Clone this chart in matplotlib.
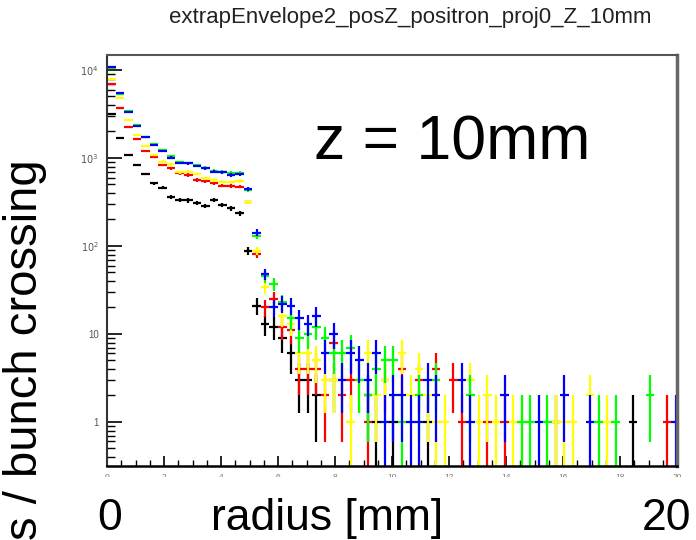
import numpy as np
import matplotlib
matplotlib.use("Agg")
import matplotlib.pyplot as plt
from matplotlib.ticker import FixedLocator, FixedFormatter, LogLocator, MultipleLocator, NullFormatter
from matplotlib.patches import Rectangle

plt.rcParams['font.family'] = ['Liberation Sans', 'DejaVu Sans']

# histogram binning (radius in mm)
bin_width = 0.3
n_bins = 67

# counts per bin, one list per histogram
counts_blue = [10900, 5430, 3360, 2310, 1720, 1405, 1200, 1010, 877, 870,
               811, 763, 699, 690, 641, 650, 441, 142, 48, 20,
               22, 21, 15, 13, 16, 6, 10, 3, 6, 5,
               3, 6, 1, 2, 2, 1, 1, 3, 2, 0,
               0, 3, 1, 0, 0, 0, 2, 0, 0, 0,
               1, 0, 0, 2, 0, 0, 1, 0, 0, 0,
               0, 0, 0, 0, 0, 0, 1]
counts_green = [10500, 5300, 3450, 2400, 1750, 1450, 1220, 1050, 890, 880,
                830, 775, 720, 700, 680, 680, 430, 130, 45, 37,
                23, 15, 9, 10, 12, 9, 6, 6, 7, 3,
                2, 4, 5, 5, 1, 0, 2, 0, 3, 0,
                0, 0, 2, 0, 0, 0, 0, 0, 1, 1,
                0, 1, 0, 0, 0, 0, 0, 1, 0, 1,
                0, 0, 0, 2, 0, 0, 0]
counts_yellow = [8000, 4770, 2700, 1825, 1380, 1082, 908, 848, 690, 699,
                 658, 588, 562, 538, 531, 548, 315, 88, 34, 20,
                 16, 13, 6, 6, 5, 3, 3, 3, 1, 3,
                 6, 2, 3, 2, 6, 2, 4, 2, 1, 1,
                 0, 0, 3, 1, 2, 1, 0, 1, 1, 0,
                 0, 0, 1, 1, 1, 0, 2, 0, 1, 0,
                 0, 0, 0, 0, 0, 0, 0]
counts_red = [6930, 3670, 2270, 1630, 1200, 1035, 832, 763, 670, 641,
              562, 548, 515, 485, 480, 472, 319, 82, 20, 25,
              12, 11, 4, 4, 4, 2, 8, 2, 3, 0,
              1, 0, 3, 0, 4, 0, 3, 0, 4, 0,
              3, 1, 0, 0, 1, 0, 1, 0, 0, 0,
              0, 0, 0, 0, 0, 0, 0, 0, 0, 0,
              0, 0, 0, 0, 0, 1, 0]
counts_black = [3200, 1700, 1082, 832, 658, 515, 460, 357, 333, 330,
                311, 285, 333, 292, 268, 235, 88, 21, 13, 12,
                9, 6, 3, 3, 2, 0, 3, 0, 0, 0,
                2, 1, 0, 1, 0, 0, 0, 1, 0, 0,
                0, 0, 0, 0, 0, 0, 0, 0, 0, 0,
                0, 0, 1, 0, 0, 0, 0, 0, 0, 0,
                0, 1, 0, 0, 0, 0, 0]

series = [(counts_black, 'black'), (counts_red, '#ff0000'), (counts_yellow, '#ffff00'),
          (counts_green, '#00ff00'), (counts_blue, '#0000ff')]

y_ticks = [1, 10, 100, 1000, 10000]
y_tick_labels = ['1', '10', '$10^2$', '$10^3$', '$10^4$']
x_ticks = [0, 2, 4, 6, 8, 10, 12, 14, 16, 18, 20]

fig = plt.figure(figsize=(6.96, 5.4), dpi=100)
ax = fig.add_axes([107 / 696, 1 - 466 / 540, 570 / 696, 411 / 540])

centers = (np.arange(n_bins) + 0.5) * bin_width
for counts, col in series:
    n = np.array(counts, dtype=float)
    keep = n > 0
    err = np.sqrt(n[keep])
    low = n[keep] - np.maximum(n[keep] - err, 1e-3)
    ax.errorbar(centers[keep], n[keep], xerr=bin_width / 2, yerr=[low, err],
                fmt='none', ecolor=col, elinewidth=1.6, capsize=0)

ax.set_yscale('log')
ax.set_xlim(0, 20)
ax.set_ylim(0.316, 14800)

ax.yaxis.set_major_locator(FixedLocator(y_ticks))
ax.yaxis.set_major_formatter(FixedFormatter(y_tick_labels))
ax.yaxis.set_minor_locator(LogLocator(base=10, subs=np.arange(2, 10)))
ax.yaxis.set_minor_formatter(NullFormatter())
ax.xaxis.set_major_locator(FixedLocator(x_ticks))
ax.xaxis.set_minor_locator(MultipleLocator(0.5))

ax.tick_params(axis='y', which='major', direction='in', length=11, width=1.2,
               labelsize=7, labelcolor='#555555', pad=6, right=False)
ax.tick_params(axis='y', which='minor', direction='in', length=6, width=1.0, right=False)
ax.tick_params(axis='x', which='major', direction='in', length=7, width=1.2,
               labelsize=6, labelcolor='#777777', pad=6, top=False)
ax.tick_params(axis='x', which='minor', direction='in', length=4, width=1.0, top=False)

ax.spines['bottom'].set_linewidth(1.8)
ax.spines['left'].set_color('#333333')
ax.spines['left'].set_linewidth(1.5)
ax.spines['top'].set_color('#555555')
ax.spines['top'].set_linewidth(1.5)
ax.spines['right'].set_color('#666666')
ax.spines['right'].set_linewidth(2.5)

# white strip hiding the lower half of the small x tick labels
fig.add_artist(Rectangle((0, 0), 1, 1 - 477 / 540, transform=fig.transFigure,
                         facecolor='white', edgecolor='none', zorder=5))

fig.text(0.59, 0.967, 'extrapEnvelope2_posZ_positron_proj0_Z_10mm',
         fontsize=16, color='#222222', ha='center', va='center')
fig.text(0.650, 0.735, 'z = 10mm', fontsize=45, ha='center', va='center')

base_y = 1 - 530 / 540
fig.text(0.158, base_y, '0', fontsize=32, ha='center', va='baseline', zorder=6)
fig.text(0.470, base_y, 'radius [mm]', fontsize=32, ha='center', va='baseline', zorder=6)
fig.text(0.958, base_y, '20', fontsize=32, ha='center', va='baseline', zorder=6)
fig.text(0.036, 0.0, 's / bunch crossing', fontsize=34, rotation=90,
         ha='center', va='bottom', zorder=6)

fig.savefig('out.png', dpi=100)
